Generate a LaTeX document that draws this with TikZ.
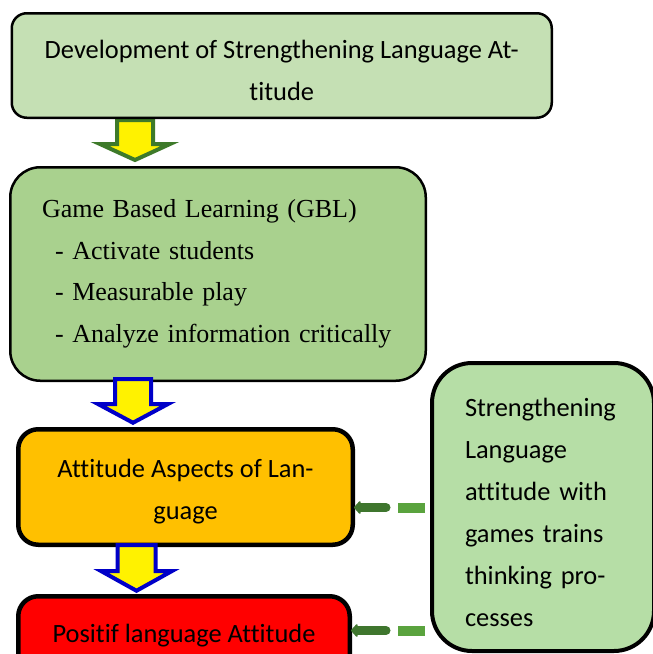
\documentclass[tikz,border=0pt]{standalone}
\usepackage{fontspec}
\setmainfont{Liberation Serif}
\newfontfamily\carlito[Ligatures=NoCommon]{Carlito}
\usetikzlibrary{arrows.meta,calc}
\definecolor{cA}{HTML}{C5E0B4}
\definecolor{cB}{HTML}{A9D18E}
\definecolor{cC}{HTML}{FFC000}
\definecolor{cD}{HTML}{FF0000}
\definecolor{cE}{HTML}{B6DEA6}
\definecolor{arrgreen}{HTML}{3E7A2A}
\definecolor{arrblue}{HTML}{0000C8}
\definecolor{dashdark}{HTML}{3F762E}
\definecolor{dashlight}{HTML}{5AA33E}
\tikzset{
  pics/barrow/.style n args={4}{code={
    \path[pic actions] (-#1,0) -- (-#1,#3) -- (-#2,#3) -- (0,#4) -- (#2,#3) -- (#1,#3) -- (#1,0) -- cycle;}},
  box/.style={draw=black, inner sep=0pt},
  calibri/.style={font=\carlito\fontsize{26.4}{42}\selectfont},
  times/.style={font=\fontsize{26}{41.5}\selectfont},
  greenarrow/.style={draw=arrgreen, fill=yellow, line width=4pt, miter limit=10},
  bluearrow/.style={draw=arrblue, fill=yellow, line width=4pt, miter limit=10},
  lightdash/.style={draw=dashlight, line width=10pt, dash pattern=on 27pt off 400pt, shorten <=5pt},
  darkdash/.style={draw=dashdark, line width=9pt, line cap=round, shorten <=44pt, shorten >=-1pt,
    -{Triangle[width=15pt,length=7pt,round]}},
}
\begin{document}
\begin{tikzpicture}[x=1pt,y=-1pt]
\path[use as bounding box] (0,0) rectangle (653,654);
\clip (0,0) rectangle (653,654);
% green block arrow (under the boxes)
\pic[greenarrow] at (135,120) {barrow={18}{35}{24}{40}};
% boxes
\node[box, fill=cA, line width=2.5pt, rounded corners=15pt, minimum width=540pt, minimum height=104.5pt,
  label={[name=b1t, calibri, align=center, yshift=-4.5pt]center:{Development of Strengthening Language At-\\titude}}]
  (b1) at (281.75,65.5) {};
\node[box, fill=cB, line width=2.5pt, rounded corners=30pt, minimum width=415.5pt, minimum height=213.5pt,
  label={[name=b2t, times, text width=352pt, align=left, yshift=0pt]center:{%
   \mbox{Game Based Learning (GBL)}\\
   \mbox{\hspace*{13pt}- Activate students}\\
   \mbox{\hspace*{13pt}- Measurable play}\\
   \mbox{\hspace*{13pt}- Analyze information critically}}}]
  (b2) at (218,274) {};
\node[box, fill=cC, line width=4.5pt, rounded corners=20pt, minimum width=334.5pt, minimum height=115.5pt,
  label={[name=b3t, calibri, align=center, yshift=-4.5pt]center:{Attitude Aspects of Lan-\\guage}}]
  (b3) at (185.5,487) {};
\node[box, fill=cD, line width=4.5pt, rounded corners=20pt, minimum width=331.5pt, minimum height=78pt,
  calibri, align=center] (b4) at (184,635.25) {Positif language Attitude};
\node[box, fill=cE, line width=4pt, rounded corners=40pt, minimum width=222pt, minimum height=288pt,
  label={[name=rt, calibri, text width=156pt, align=left, yshift=-5pt]center:{%
   Strengthening\\Language\\attitude with\\games trains\\thinking pro-\\cesses}}]
  (r) at (543,507) {};
% blue block arrows
\pic[bluearrow] at (133,379) {barrow={18}{35}{25}{43.75}};
\pic[bluearrow] at (136.5,545) {barrow={19}{35.5}{26}{45.75}};
% dashed connectors
\draw[lightdash] (r.west |- 0,508) -- (b3.east |- 0,508);
\draw[darkdash] (r.west |- 0,507.5) -- (b3.east |- 0,507.5);
\draw[lightdash] (r.west |- 0,631) -- (b4.east |- 0,631);
\draw[darkdash] (r.west |- 0,630.5) -- (b4.east |- 0,630.5);
\end{tikzpicture}
\end{document}
